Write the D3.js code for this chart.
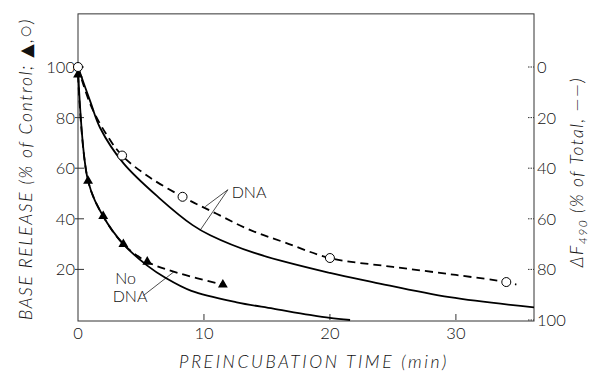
<!DOCTYPE html>
<html>
<head>
<meta charset="utf-8">
<script src="https://cdn.jsdelivr.net/npm/d3@7"></script>
<style>
  body { margin: 0; background: #fff; }
  svg text { font-family: Lato, "DejaVu Sans", sans-serif; font-weight: 300; fill: #111; }
</style>
</head>
<body>
<svg width="590" height="375"></svg>
<script>
// data (time in min)
const xTicks = [0, 10, 20, 30];
const leftTicks = [20, 40, 60, 80, 100];
const rightTicks = [0, 20, 40, 60, 80, 100];

// base release, % of control
const dnaCircles = [[0, 100], [3.5, 65], [8.3, 48.7], [20, 24.5], [34, 15]];
const noDnaTriangles = [[0, 97], [0.8, 55], [2, 41], [3.6, 30], [5.5, 23], [11.5, 14]];

// dashed fits through the points
const dnaDash = [[0, 100], [1, 85], [2.3, 73], [3.5, 65], [5.5, 57], [8.3, 48.7], [11, 42],
  [13.65, 35.6], [16.5, 30.5], [20, 24.5], [25, 21], [30, 17.8], [34, 15], [34.8, 14]];
const noDnaDash = [[0, 97], [0.8, 55], [2, 41], [3.6, 30], [5.5, 23], [8, 18.5], [11.5, 14]];

// ΔF490, % of total (right axis, solid)
const dnaF = [[0, 0], [1, 14], [1.75, 24], [3.6, 38], [6.5, 52], [9.1, 62.5], [10.5, 66.5],
  [14, 73.5], [20, 81.4], [23.4, 85], [29.5, 91], [36.2, 95]];
const noDnaF = [[0, 0], [0.8, 45], [2, 59], [3.6, 70], [5.5, 78.5], [7, 83.5], [9, 88.5],
  [12.6, 93], [15.5, 95.5], [18.4, 98], [20, 99.2], [21.6, 100]];

const svg = d3.select("svg");

const x = d3.scaleLinear().domain([0, 36.2]).range([78, 534]);
const y = d3.scaleLinear().domain([0, 100]).range([320, 67]);
const yR = d3.scaleLinear().domain([0, 100]).range([67, 320]);
const yTop = 121;

// frame
svg.append("rect")
  .attr("x", x(0)).attr("y", y(yTop))
  .attr("width", x(36.2) - x(0)).attr("height", y(0) - y(yTop) + 1)
  .attr("fill", "none").attr("stroke", "#333").attr("stroke-width", 1);

// left ticks
svg.selectAll(".lt").data(leftTicks).enter().append("line")
  .attr("x1", x(0) - 3).attr("x2", x(0) + 6)
  .attr("y1", d => y(d)).attr("y2", d => y(d))
  .attr("stroke", "#333");
svg.selectAll(".ll").data(leftTicks).enter().append("text")
  .attr("x", x(0) - 3).attr("y", d => y(d) + 6)
  .attr("text-anchor", "end").attr("font-size", 16.5)
  .text(d => d);

// right ticks
svg.selectAll(".rt").data(rightTicks).enter().append("line")
  .attr("x1", x(36.2) - 6).attr("x2", x(36.2))
  .attr("y1", d => yR(d)).attr("y2", d => yR(d))
  .attr("stroke", "#333").attr("stroke-dasharray", "1.5,1");
svg.selectAll(".rl").data(rightTicks).enter().append("text")
  .attr("x", x(36.2) + 3).attr("y", d => yR(d) + 6)
  .attr("font-size", 16.5)
  .text(d => d);

// bottom ticks
svg.selectAll(".bt").data(xTicks.filter(d => d > 0)).enter().append("line")
  .attr("x1", d => x(d)).attr("x2", d => x(d))
  .attr("y1", y(0) - 6).attr("y2", y(0))
  .attr("stroke", "#333");
svg.selectAll(".bl").data(xTicks).enter().append("text")
  .attr("x", d => x(d)).attr("y", 339)
  .attr("text-anchor", "middle").attr("font-size", 16.5)
  .text(d => d);

// curves
const line = d3.line().x(d => x(d[0])).y(d => y(d[1])).curve(d3.curveCatmullRom.alpha(0.5));
const lineR = d3.line().x(d => x(d[0])).y(d => yR(d[1])).curve(d3.curveCatmullRom.alpha(0.5));

[dnaF, noDnaF].forEach(s => {
  svg.append("path").attr("d", lineR(s))
    .attr("fill", "none").attr("stroke", "#000").attr("stroke-width", 1.8);
});
[dnaDash, noDnaDash].forEach(s => {
  svg.append("path").attr("d", line(s))
    .attr("fill", "none").attr("stroke", "#000").attr("stroke-width", 1.8)
    .attr("stroke-dasharray", "8,5");
});

// markers
svg.selectAll(".tri").data(noDnaTriangles).enter().append("path")
  .attr("d", d3.symbol(d3.symbolTriangle, 42))
  .attr("transform", d => `translate(${x(d[0])},${y(d[1])})`)
  .attr("fill", "#000");
svg.selectAll(".circ").data(dnaCircles).enter().append("circle")
  .attr("cx", d => x(d[0])).attr("cy", d => y(d[1])).attr("r", 4.5)
  .attr("fill", "#fff").attr("stroke", "#000").attr("stroke-width", 1);

// annotations
svg.append("text").attr("x", x(12.2)).attr("y", y(48.3)).attr("font-size", 16).text("DNA");
svg.append("line").attr("x1", x(11.9)).attr("y1", y(51.5)).attr("x2", x(10.1)).attr("y2", y(44.8))
  .attr("stroke", "#000").attr("stroke-width", 0.7);
svg.append("line").attr("x1", x(11.9)).attr("y1", y(51.5)).attr("x2", x(9.7)).attr("y2", y(35.5))
  .attr("stroke", "#000").attr("stroke-width", 0.7);

svg.append("text").attr("x", x(2.95)).attr("y", y(14.3)).attr("font-size", 16).text("No");
svg.append("text").attr("x", x(2.75)).attr("y", y(7.2)).attr("font-size", 16).text("DNA");
svg.append("line").attr("x1", x(5.2)).attr("y1", y(9.7)).attr("x2", x(7.6)).attr("y2", y(19))
  .attr("stroke", "#000").attr("stroke-width", 0.7);

// axis titles
svg.append("text")
  .attr("transform", "translate(32,169) rotate(-90)")
  .attr("text-anchor", "middle").attr("font-size", 17.5).attr("font-style", "italic")
  .attr("letter-spacing", 1.7)
  .text("BASE  RELEASE (% of Control; \u25B2,\u25CB)");

const rt = svg.append("text")
  .attr("transform", "translate(583,172) rotate(-90)")
  .attr("text-anchor", "middle").attr("font-size", 17.5).attr("font-style", "italic")
  .attr("letter-spacing", 1.5);
rt.append("tspan").text("\u0394F");
rt.append("tspan").attr("font-size", 12).attr("dy", 4).text("490");
rt.append("tspan").attr("dy", -4).text(" (% of Total, \u2014\u2014)");

svg.append("text")
  .attr("x", 314).attr("y", 368)
  .attr("text-anchor", "middle").attr("font-size", 17.5).attr("font-style", "italic")
  .attr("letter-spacing", 2.6)
  .text("PREINCUBATION  TIME (min)");
</script>
</body>
</html>
